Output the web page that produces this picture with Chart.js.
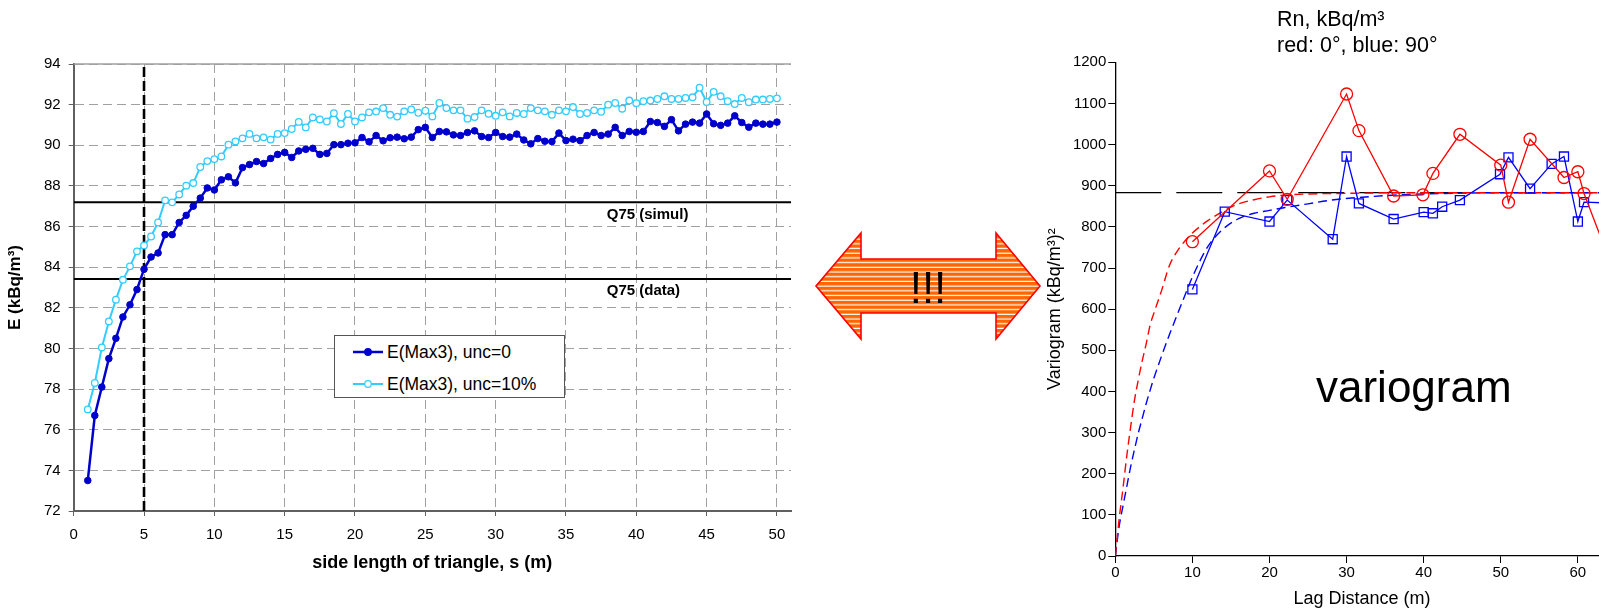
<!DOCTYPE html>
<html>
<head>
<meta charset="utf-8">
<script src="https://cdn.jsdelivr.net/npm/chart.js@4.4.1/dist/chart.umd.min.js"></script>
<style>
  html, body { margin: 0; padding: 0; background: #fff; width: 1599px; height: 610px; overflow: hidden; position: relative; }
  body { font-family: "Liberation Sans", Arial, sans-serif; color: #000; }
  #leftChart { position: absolute; left: 0; top: 0; }
  #rightChart { position: absolute; left: 1000px; top: 0; }
  #arrow { position: absolute; left: 0; top: 0; }
  .legend { position: absolute; left: 334px; top: 335px; width: 229px; height: 61px; border: 1.5px solid #555; background: #fff; }
  .legend .item { position: absolute; left: 18px; height: 24px; display: flex; align-items: center; font-size: 17.5px; white-space: nowrap; }
  .legend svg { margin-right: 4px; }
  .rn-title { position: absolute; left: 1277px; top: 6px; font-size: 21.5px; line-height: 26px; }
  .big-word { position: absolute; left: 1316px; top: 359px; font-size: 44px; line-height: 56px; }
</style>
</head>
<body>
<canvas id="leftChart" width="800" height="610"></canvas>
<canvas id="rightChart" width="620" height="610"></canvas>
<div class="legend" id="legend"></div>
<svg id="arrow" width="1599" height="610">
  <defs>
    <pattern id="stripes" width="20" height="4.7" patternUnits="userSpaceOnUse">
      <rect width="20" height="4.7" fill="#ff6600"/>
      <rect y="3.5" width="20" height="1.2" fill="#fff"/>
    </pattern>
  </defs>
  <path d="M816,286 L861,233 L861,259 L996,259 L996,233 L1040,286 L996,339 L996,313 L861,313 L861,339 Z"
        fill="url(#stripes)" stroke="#ff0000" stroke-width="1.6"/>
  <text x="928" y="303" text-anchor="middle" font-size="44" font-family="Liberation Sans, Arial, sans-serif">!!!</text>
</svg>
<div class="rn-title">Rn, kBq/m³<br>red: 0°, blue: 90°</div>
<div class="big-word">variogram</div>

<script>
// left chart: E(Max3) vs triangle side length
const sideLength = [1, 1.5, 2, 2.5, 3, 3.5, 4, 4.5, 5, 5.5, 6, 6.5, 7, 7.5, 8, 8.5, 9, 9.5, 10, 10.5,
  11, 11.5, 12, 12.5, 13, 13.5, 14, 14.5, 15, 15.5, 16, 16.5, 17, 17.5, 18, 18.5, 19, 19.5, 20, 20.5,
  21, 21.5, 22, 22.5, 23, 23.5, 24, 24.5, 25, 25.5, 26, 26.5, 27, 27.5, 28, 28.5, 29, 29.5, 30, 30.5,
  31, 31.5, 32, 32.5, 33, 33.5, 34, 34.5, 35, 35.5, 36, 36.5, 37, 37.5, 38, 38.5, 39, 39.5, 40, 40.5,
  41, 41.5, 42, 42.5, 43, 43.5, 44, 44.5, 45, 45.5, 46, 46.5, 47, 47.5, 48, 48.5, 49, 49.5, 50];

const eUnc0 = [73.5, 76.7, 78.1, 79.5, 80.5, 81.55, 82.15, 82.9, 83.9, 84.5,
  84.7, 85.6, 85.6, 86.2, 86.55, 87.0, 87.4, 87.9, 87.8, 88.3,
  88.45, 88.15, 88.9, 89.05, 89.2, 89.1, 89.35, 89.55, 89.65, 89.4,
  89.72, 89.8, 89.85, 89.55, 89.6, 90.03, 90.03, 90.1, 90.12, 90.38,
  90.17, 90.48, 90.22, 90.37, 90.4, 90.32, 90.4, 90.77, 90.88, 90.38,
  90.68, 90.66, 90.51, 90.48, 90.63, 90.71, 90.43, 90.38, 90.63, 90.43,
  90.4, 90.55, 90.26, 90.07, 90.33, 90.2, 90.18, 90.6, 90.23, 90.3,
  90.23, 90.48, 90.63, 90.48, 90.55, 90.88, 90.48, 90.68, 90.64, 90.68,
  91.17, 91.12, 90.93, 91.26, 90.71, 91.04, 91.14, 91.09, 91.54, 91.06,
  90.98, 91.09, 91.45, 91.12, 90.89, 91.09, 91.04, 91.04, 91.14];

const eUnc10 = [77.0, 78.3, 80.05, 81.33, 82.4, 83.38, 84.04, 84.78, 85.07, 85.51,
  86.2, 87.29, 87.19, 87.58, 88.01, 88.14, 88.93, 89.22, 89.32, 89.45,
  90.03, 90.19, 90.34, 90.56, 90.34, 90.39, 90.28, 90.56, 90.6, 90.8,
  91.15, 90.88, 91.37, 91.27, 91.17, 91.58, 91.05, 91.54, 91.17, 91.37,
  91.62, 91.66, 91.83, 91.5, 91.41, 91.67, 91.76, 91.6, 91.7, 91.42,
  92.08, 91.83, 91.72, 91.72, 91.31, 91.39, 91.72, 91.55, 91.45, 91.62,
  91.42, 91.59, 91.54, 91.83, 91.72, 91.67, 91.5, 91.72, 91.67, 91.88,
  91.54, 91.59, 91.72, 91.65, 92.0, 92.08, 91.8, 92.2, 92.07, 92.17,
  92.2, 92.28, 92.41, 92.28, 92.28, 92.33, 92.36, 92.83, 92.13, 92.63,
  92.41, 92.17, 92.03, 92.33, 92.12, 92.25, 92.25, 92.28, 92.31];

const q75Simul = 87.2;
const q75Data = 83.42;
const chosenSide = 5;

// right chart: experimental + model variograms
const lagRed = [10, 20, 22.3, 30, 31.6, 36.1, 39.9, 41.2, 44.7, 50, 51, 53.8, 58.2, 60, 60.8, 64];
const gammaRed = [764, 936, 867, 1123, 1034, 875, 878, 930, 1025, 950, 860, 1013, 920, 934, 881, 724];
const lagBlue = [10, 14.2, 20, 22.3, 28.2, 30, 31.6, 36.1, 40, 41.2, 42.4, 44.7, 49.9, 51, 53.8, 56.6, 58.2, 60, 60.8, 64];
const gammaBlue = [648, 837, 813, 865, 770, 971, 857, 819, 836, 833, 849, 865, 928, 969, 893, 953, 971, 813, 860, 858];
const modelLag = [0, 0.5, 1, 1.5, 2, 2.5, 3, 3.5, 4, 4.5, 5, 6, 7, 8, 9, 10, 12, 14, 16, 18, 20, 22, 25, 28, 32, 36, 40, 45, 50, 64];
const modelRed = [0, 90, 165, 245, 315, 380, 430, 475, 515, 560, 590, 645, 705, 740, 765, 785, 815, 838, 856, 866, 873, 877, 880, 881, 882, 883, 883, 883, 883, 883];
const modelBlue = [0, 72, 122, 170, 218, 260, 300, 335, 370, 402, 432, 486, 537, 585, 632, 678, 752, 795, 820, 833, 840, 847, 856, 865, 872, 877, 880, 882, 883, 883];
const sill = 883;

const FONT = '"Liberation Sans", Arial, sans-serif';
Chart.defaults.font.family = FONT;
Chart.defaults.color = '#000';

const pts = (xs, ys) => xs.map((x, i) => ({ x, y: ys[i] }));

// Q75 captions + solid top edge of the plot area
const q75Labels = {
  id: 'q75Labels',
  beforeDatasetsDraw(chart) {
    const { ctx, chartArea } = chart;
    ctx.save();
    ctx.strokeStyle = '#a0a0a0';
    ctx.lineWidth = 1.5;
    ctx.beginPath();
    ctx.moveTo(chartArea.left, chartArea.top);
    ctx.lineTo(chartArea.right, chartArea.top);
    ctx.stroke();
    ctx.restore();
  },
  afterDatasetsDraw(chart) {
    const { ctx, scales: { x, y } } = chart;
    ctx.save();
    ctx.font = 'bold 15px ' + FONT;
    ctx.fillStyle = '#000';
    ctx.textAlign = 'left';
    ctx.textBaseline = 'middle';
    ctx.fillText('Q75 (simul)', x.getPixelForValue(37.9), y.getPixelForValue(q75Simul) + 13);
    ctx.fillText('Q75 (data)', x.getPixelForValue(37.9), y.getPixelForValue(q75Data) + 12);
    ctx.restore();
  }
};

const leftChart = new Chart(document.getElementById('leftChart'), {
  type: 'line',
  data: {
    datasets: [
      {
        label: 'E(Max3), unc=0',
        data: pts(sideLength, eUnc0),
        borderColor: '#0000cc', backgroundColor: '#0000cc',
        borderWidth: 2.5, pointRadius: 3.3, pointBorderWidth: 1, pointHoverRadius: 3.3
      },
      {
        label: 'E(Max3), unc=10%',
        data: pts(sideLength, eUnc10),
        borderColor: '#33ccff', backgroundColor: '#ffffff',
        borderWidth: 2, pointRadius: 3.3, pointBorderWidth: 1.3, pointHoverRadius: 3.3
      },
      {
        label: 'Q75 (simul)',
        data: pts([0, 51], [q75Simul, q75Simul]),
        borderColor: '#000', borderWidth: 2, pointRadius: 0
      },
      {
        label: 'Q75 (data)',
        data: pts([0, 51], [q75Data, q75Data]),
        borderColor: '#000', borderWidth: 2, pointRadius: 0
      },
      {
        label: 's = 5',
        data: pts([chosenSide, chosenSide], [72, 94]),
        borderColor: '#000', borderWidth: 2.6, borderDash: [10, 4], pointRadius: 0
      }
    ]
  },
  options: {
    responsive: false,
    animation: false,
    layout: { padding: { top: 64, right: 9, left: 0, bottom: 0 } },
    plugins: { legend: { display: false }, tooltip: { enabled: false } },
    scales: {
      x: {
        type: 'linear', min: 0, max: 51,
        ticks: { stepSize: 5, includeBounds: false, maxRotation: 0, padding: 10, font: { size: 15 }, color: '#000' },
        grid: { color: '#a0a0a0', lineWidth: 1, tickColor: '#606060', tickLength: 5, tickBorderDash: [] },
        border: { color: '#606060', width: 2, dash: [9, 5] },
        title: { display: true, text: 'side length of triangle, s (m)', font: { size: 18, weight: 'bold' }, color: '#000', padding: { top: 0, bottom: 36 } },
        afterFit(scale) { scale.height = 99; }
      },
      y: {
        min: 72, max: 94,
        ticks: { stepSize: 2, padding: 8, font: { size: 15 }, color: '#000' },
        grid: { color: '#a0a0a0', lineWidth: 1, tickColor: '#606060', tickLength: 5, tickBorderDash: [] },
        border: { color: '#606060', width: 2, dash: [9, 5] },
        title: { display: true, text: 'E (kBq/m³)', font: { size: 17, weight: 'bold' }, color: '#000', padding: { top: 5, bottom: 0 } },
        afterFit(scale) { scale.width = 73.7; }
      }
    }
  },
  plugins: [q75Labels]
});

// html legend built from the first two datasets
function buildLegend() {
  const box = document.getElementById('legend');
  leftChart.data.datasets.slice(0, 2).forEach((ds, i) => {
    const item = document.createElement('div');
    item.className = 'item';
    item.style.top = (4 + i * 32) + 'px';
    item.innerHTML = `<svg width="30" height="12"><line x1="0" y1="6" x2="30" y2="6" stroke="${ds.borderColor}" stroke-width="${ds.borderWidth}"/>` +
      `<circle cx="15" cy="6" r="3.3" fill="${ds.backgroundColor}" stroke="${ds.borderColor}" stroke-width="1.2"/></svg>` +
      `<span>${ds.label}</span>`;
    box.appendChild(item);
  });
}
buildLegend();

new Chart(document.getElementById('rightChart'), {
  type: 'line',
  data: {
    datasets: [
      {
        label: 'red: 0°',
        data: pts(lagRed, gammaRed),
        borderColor: '#ff0000', backgroundColor: 'rgba(0,0,0,0)',
        borderWidth: 1.3, pointStyle: 'circle', pointRadius: 6, pointBorderWidth: 1.3, pointHoverRadius: 6
      },
      {
        label: 'blue: 90°',
        data: pts(lagBlue, gammaBlue),
        borderColor: '#0000ff', backgroundColor: 'rgba(0,0,0,0)',
        borderWidth: 1.3, pointStyle: 'rect', pointRadius: 6.4, pointBorderWidth: 1.3, pointHoverRadius: 6.4
      },
      {
        label: 'model 0°',
        data: pts(modelLag, modelRed),
        borderColor: '#ff0000', borderWidth: 1.4, borderDash: [9, 5], pointRadius: 0, cubicInterpolationMode: 'monotone'
      },
      {
        label: 'model 90°',
        data: pts(modelLag, modelBlue),
        borderColor: '#0000ff', borderWidth: 1.4, borderDash: [9, 5], pointRadius: 0, cubicInterpolationMode: 'monotone'
      },
      {
        label: 'sill',
        data: pts([0, 64], [sill, sill]),
        borderColor: '#000', borderWidth: 1.3, borderDash: [46, 15], pointRadius: 0
      }
    ]
  },
  options: {
    responsive: false,
    animation: false,
    layout: { padding: { top: 62.3, right: 11.3, left: 0, bottom: 0 } },
    plugins: { legend: { display: false }, tooltip: { enabled: false } },
    scales: {
      x: {
        type: 'linear', min: 0, max: 64,
        ticks: { stepSize: 10, includeBounds: false, maxRotation: 0, padding: 1, font: { size: 15 }, color: '#000' },
        grid: { drawOnChartArea: false, tickColor: '#000', tickLength: 7 },
        border: { color: '#000', width: 1.3 },
        title: { display: true, text: 'Lag Distance (m)', font: { size: 18 }, color: '#000', padding: { top: 0, bottom: 0 } },
        afterFit(scale) { scale.height = 54; }
      },
      y: {
        min: 0, max: 1200,
        ticks: { stepSize: 100, padding: 2, font: { size: 15 }, color: '#000', callback: v => String(v) },
        grid: { drawOnChartArea: false, tickColor: '#000', tickLength: 7 },
        border: { color: '#000', width: 1.3 },
        title: { display: true, text: 'Variogram (kBq/m³)²', font: { size: 18 }, color: '#000', padding: { top: 44, bottom: 0 } },
        afterFit(scale) { scale.width = 115.3; }
      }
    }
  }
});
</script>
</body>
</html>
